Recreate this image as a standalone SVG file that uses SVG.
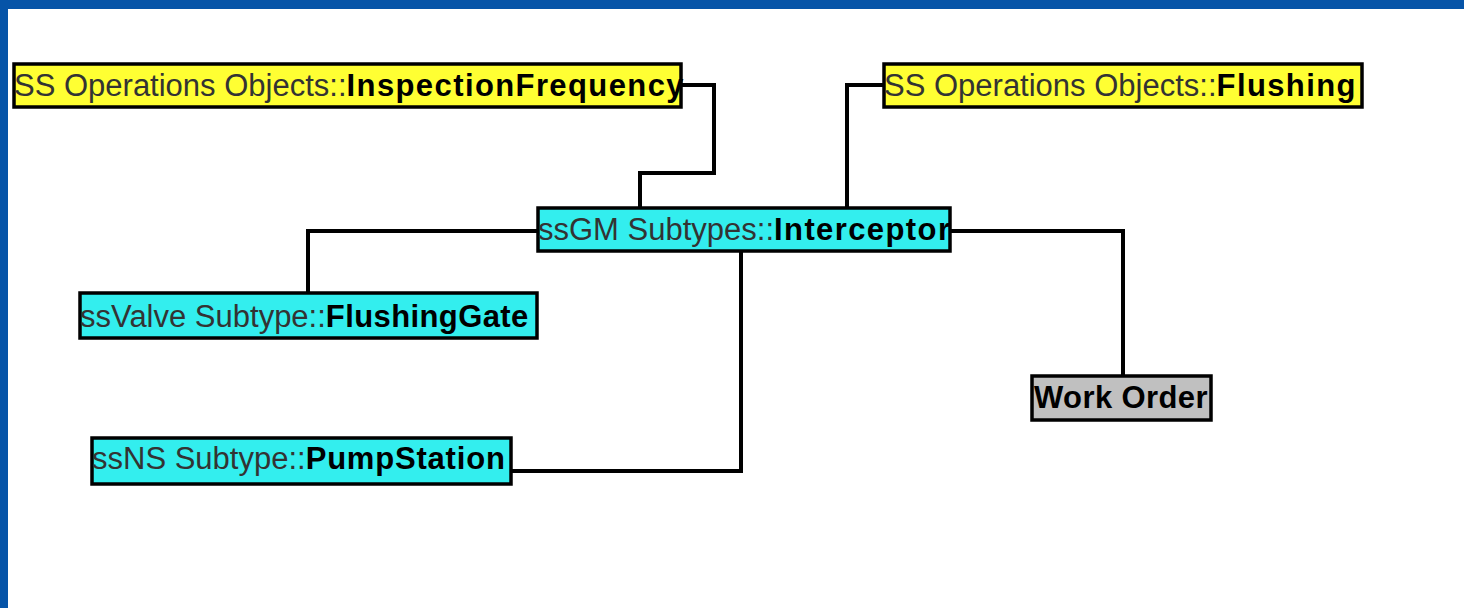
<svg xmlns="http://www.w3.org/2000/svg" width="1464" height="608" viewBox="0 0 1464 608">
<style>
.box{stroke:#000;stroke-width:3.5}
.y{fill:#ffff33}
.c{fill:#33eeee}
.g{fill:#c0c0c0}
.t{font-family:"Liberation Sans",Arial,sans-serif;font-size:31px}
.r{fill:#333}
.b{font-weight:bold;fill:#000;letter-spacing:1.4px}
.conn path{fill:none;stroke:#000;stroke-width:4}
</style>
<rect x="0" y="0" width="1464" height="608" fill="#fff"/>
<rect x="0" y="0" width="1464" height="9" fill="#0654a8"/>
<rect x="0" y="0" width="8" height="608" fill="#0654a8"/>
<g class="conn" id="connectors">
<path d="M681,85 H714 V173 H640 V208"/>
<path d="M884,85 H847 V208"/>
<path d="M538,231 H308 V293"/>
<path d="M950,231 H1123 V376"/>
<path d="M741,251 V471 H511"/>
</g>
<g id="inspectionFrequency">
<rect class="box y" x="14" y="64" width="667" height="43"/>
<text class="t" x="14" y="96"><tspan class="r">SS Operations Objects::</tspan><tspan class="b">InspectionFrequency</tspan></text>
</g>
<g id="flushing">
<rect class="box y" x="884" y="64" width="478" height="43"/>
<text class="t" x="884" y="96"><tspan class="r">SS Operations Objects::</tspan><tspan class="b">Flushing</tspan></text>
</g>
<g id="interceptor">
<rect class="box c" x="538" y="208" width="412" height="43"/>
<text class="t" x="538" y="240"><tspan class="r">ssGM Subtypes::</tspan><tspan class="b">Interceptor</tspan></text>
</g>
<g id="flushingGate">
<rect class="box c" x="80" y="293" width="457" height="45"/>
<text class="t" x="80" y="327"><tspan class="r">ssValve Subtype::</tspan><tspan class="b" style="letter-spacing:0.4px">FlushingGate</tspan></text>
</g>
<g id="pumpStation">
<rect class="box c" x="92" y="438" width="419" height="46"/>
<text class="t" x="92" y="469"><tspan class="r">ssNS Subtype::</tspan><tspan class="b" style="letter-spacing:0.8px">PumpStation</tspan></text>
</g>
<g id="workOrder">
<rect class="box g" x="1032" y="376" width="179" height="44"/>
<text class="t b" x="1034" y="408" style="letter-spacing:0.4px">Work Order</text>
</g>
</svg>
